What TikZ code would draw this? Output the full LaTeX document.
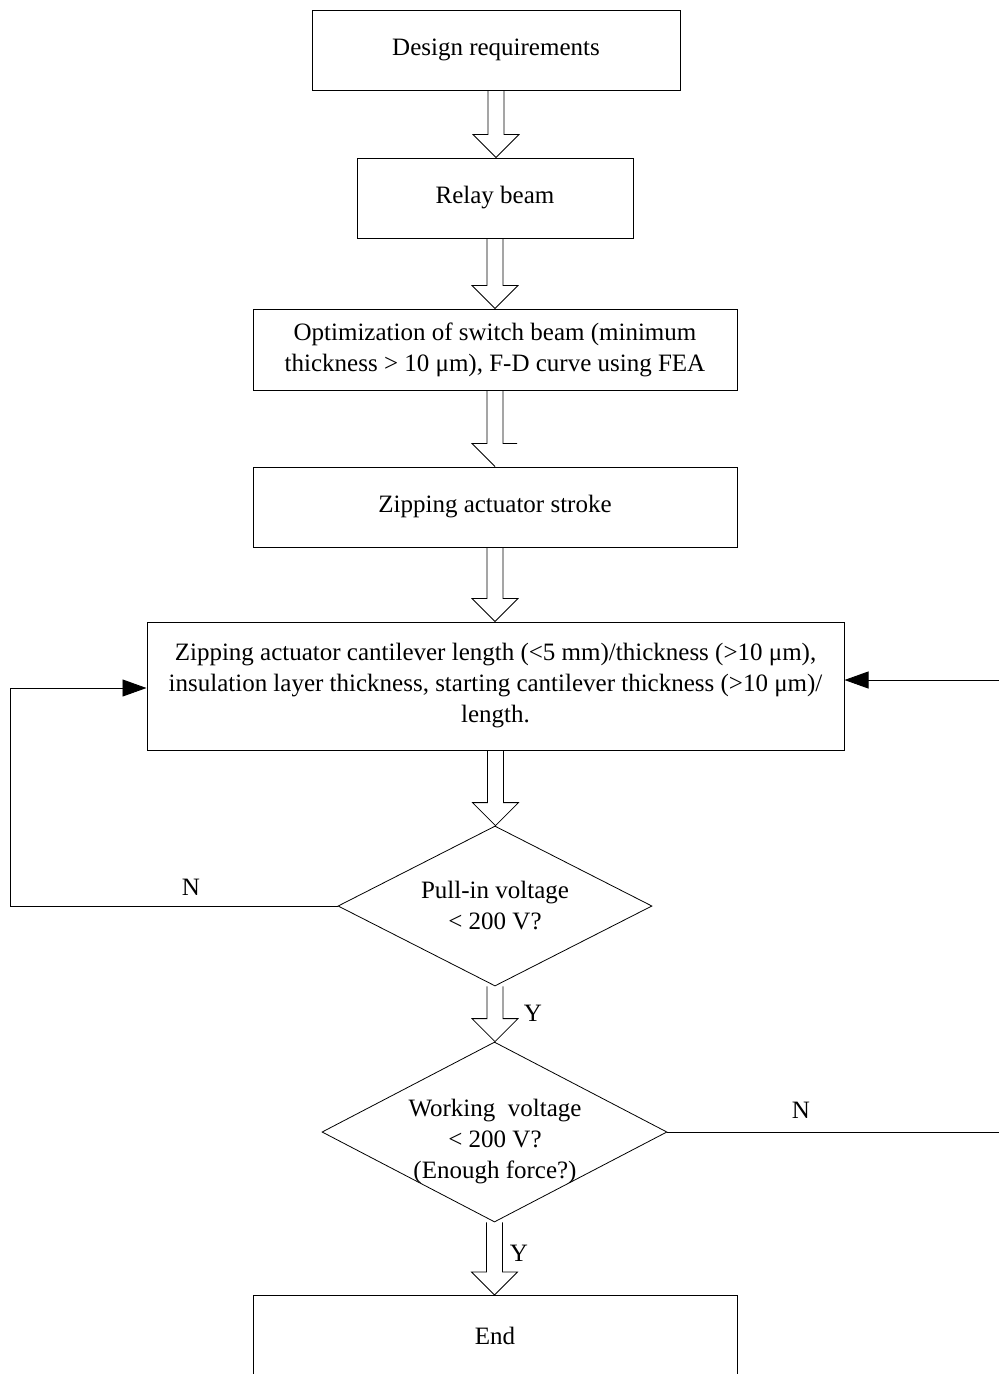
\documentclass[tikz,border=0pt]{standalone}
\usepackage{fontspec}
\setmainfont{Liberation Serif}
\usetikzlibrary{shapes.geometric,arrows.meta,calc}
\tikzset{
  box/.style={draw, line width=1pt, inner sep=0pt, align=center, font=\fontsize{25}{31}\selectfont},
  dia/.style={draw, diamond, line width=0.8pt, inner sep=0pt},
  lbl/.style={font=\fontsize{25}{31}\selectfont, align=center, inner sep=0pt},
  flow/.style={line width=0.9pt, -{Triangle[length=24pt,width=17pt]}},
  plain/.style={line width=0.9pt},
  barrowstyle/.style={line width=0.8pt}
}
\newcommand\barrow[2]{%
  \draw[barrowstyle] let \p1=(#1), \p2=(#2) in
    (\x1-8pt,\y1) -- (\x1-8pt,\y2+23pt) -- (\x1-23pt,\y2+23pt) -- (\x1,\y2)
    -- (\x1+23pt,\y2+23pt) -- (\x1+8pt,\y2+23pt) -- (\x1+8pt,\y1);}
\begin{document}
\begin{tikzpicture}[x=1pt,y=-1pt]
\useasboundingbox (0,0) rectangle (999,1374);
\clip (0,0) rectangle (999,1374);
\node[box, minimum width=368pt, minimum height=80pt] (b1) at (496,50) {Design requirements};
\node[box, minimum width=276pt, minimum height=80pt] (b2) at (495,198) {Relay beam};
\node[box, minimum width=484pt, minimum height=81pt] (b3) at (495,349.5) {Optimization of switch beam (minimum\\thickness > 10 μm), F-D curve using FEA};
\node[box, minimum width=484pt, minimum height=80pt] (b4) at (495,507) {Zipping actuator stroke};
\node[box, minimum width=697pt, minimum height=128pt] (b5) at (495.5,686) {Zipping actuator cantilever length (<5 mm)/thickness (>10 μm),\\insulation layer thickness, starting cantilever thickness (>10 μm)/\\length.};
\node[dia, minimum width=314pt, minimum height=160pt] (d1) at (495,906) {};
\node[lbl] (t1) at (495,906) {Pull-in voltage\\< 200 V?};
\node[dia, minimum width=345pt, minimum height=180pt] (d2) at (494.5,1132) {};
\node[lbl] (t2) at (495,1142) {Working\ \ voltage\\< 200 V?\\(Enough force?)};
\node[box, minimum width=484pt, minimum height=160pt, anchor=north] (b6) at (495,1295) {};
\node[lbl] (t6) at (495,1336) {End};
% block arrows
\barrow{b1.south}{b2.north}
\barrow{b2.south}{b3.north}
\draw[barrowstyle] let \p1=(b3.south), \p2=(b4.north) in
  (\x1-8pt,\y1) -- (\x1-8pt,\y2+23pt) -- (\x1-23pt,\y2+23pt) -- (\x1,\y2)
  (\x1+8pt,\y1) -- (\x1+8pt,\y2+23pt) -- (\x1+22pt,\y2+23pt);
\barrow{b4.south}{b5.north}
\barrow{b5.south}{d1.north}
\barrow{d1.south}{d2.north}
\barrow{d2.south}{b6.north}
% loops
\coordinate (l1) at (10,906);
\coordinate (l2) at (10,688);
\draw[flow] (d1.west) -- (l1) -- (l2) -- (b5.west |- l2);
\coordinate (r1) at (1000,1132);
\coordinate (r2) at (1000,680);
\draw[plain] (d2.east) -- (r1);
\draw[flow] (r2) -- (b5.east |- r2);
% labels
\node[lbl] (n1) at (191,887) {N};
\node[lbl] (n2) at (801,1110) {N};
\node[lbl] (y1) at (533,1013) {Y};
\node[lbl] (y2) at (519,1253) {Y};
\end{tikzpicture}
\end{document}
